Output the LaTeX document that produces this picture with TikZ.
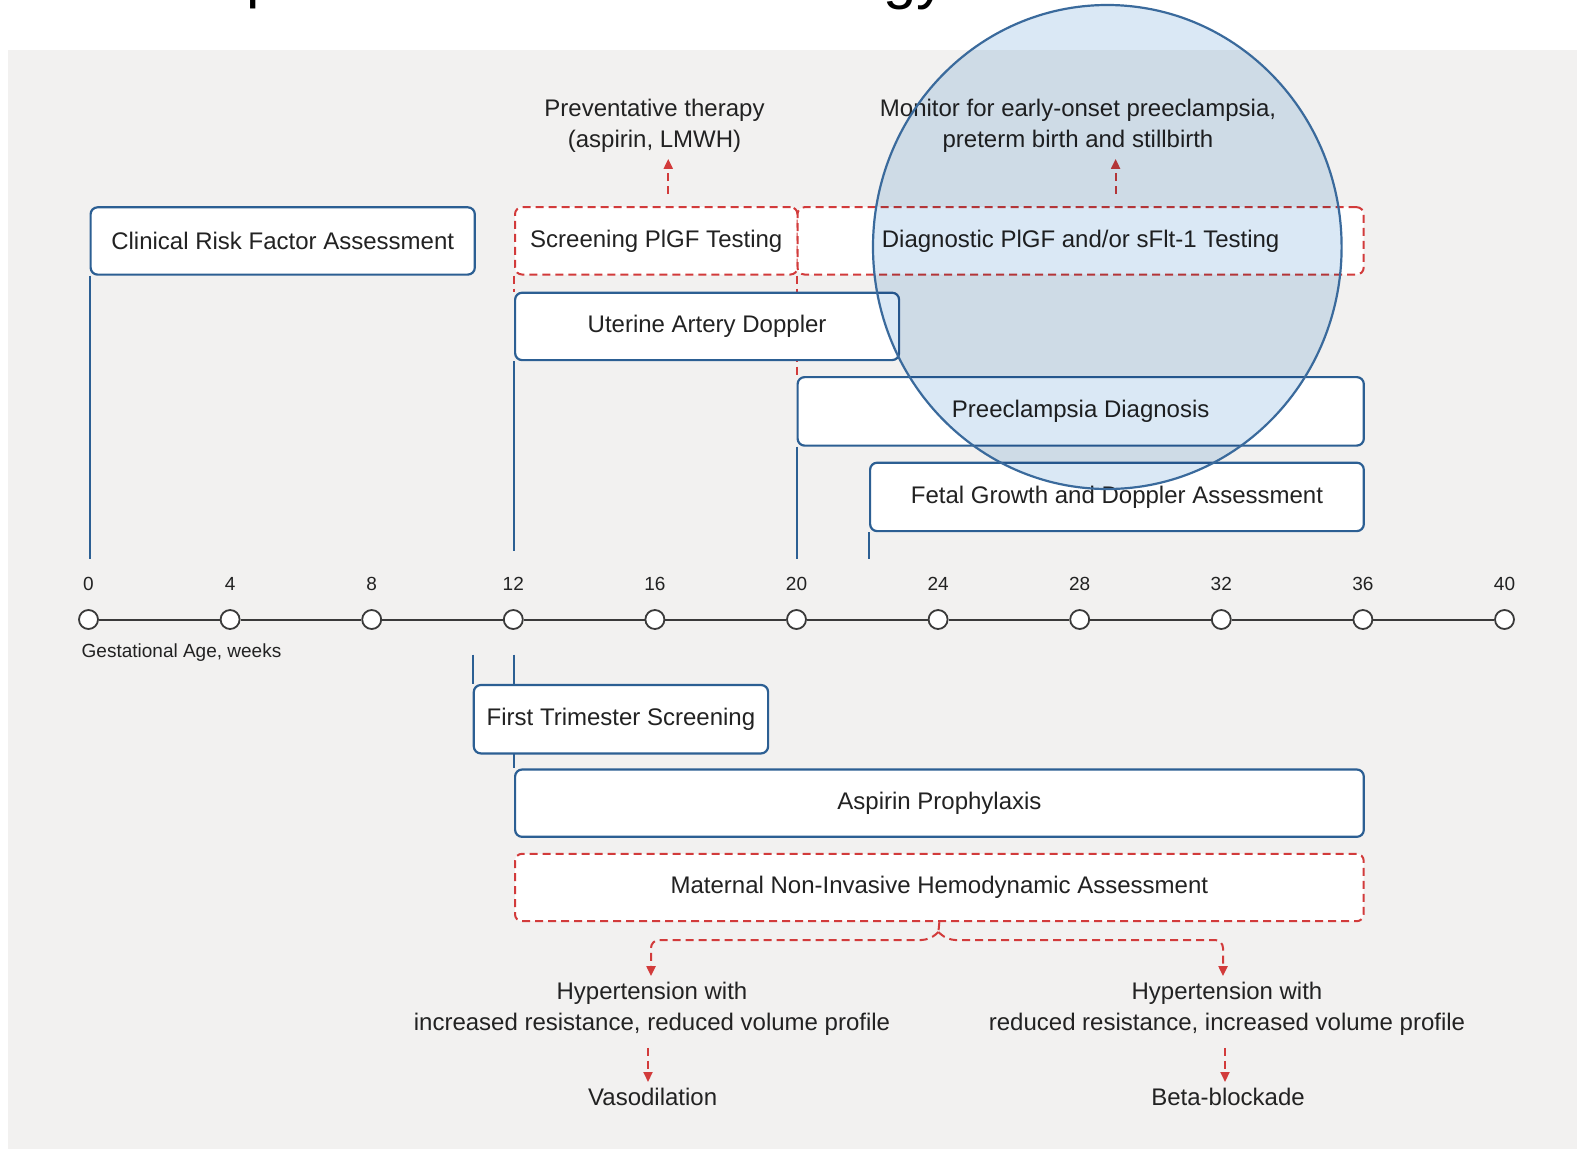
\documentclass[tikz,border=0pt]{standalone}
\usepackage{fontspec}
\setmainfont{Liberation Sans}
\usetikzlibrary{arrows.meta}
\definecolor{bggray}{HTML}{F2F1F0}
\definecolor{bblue}{HTML}{2C5F93}
\definecolor{rred}{HTML}{D23B3B}
\definecolor{txt}{HTML}{222222}
\definecolor{cfill}{HTML}{DAE8F5}
\definecolor{cline}{HTML}{3A6A9C}
\definecolor{tline}{HTML}{3A3A3A}
\tikzset{
  base/.style={font=\fontsize{24}{31}\selectfont, text=txt},
  small/.style={font=\fontsize{19}{23}\selectfont, text=txt, inner sep=0pt},
  bluebox/.style={base, draw=bblue, line width=2.2pt, fill=white, rounded corners=7pt, anchor=north west, inner sep=0pt},
  redbox/.style={base, draw=rred, line width=2pt, dash pattern=on 8pt off 5pt, fill=white, rounded corners=7pt, anchor=north west, inner sep=0pt},
  stem/.style={draw=bblue, line width=2.2pt},
  rstem/.style={draw=rred, line width=2pt, dash pattern=on 8pt off 5pt},
  rarrow/.style={rstem, -{Triangle[length=10pt,width=9pt]}},
  tickc/.style={circle, draw=tline, fill=white, line width=1.8pt, minimum size=19pt, inner sep=0pt},
  lab/.style={base, align=center, inner sep=6pt},
}
\begin{document}
\begin{tikzpicture}[x=1pt,y=-1pt]
\useasboundingbox (0,0) rectangle (1577,1149);
\fill[white] (0,0) rectangle (1577,1149);
\fill[bggray] (8,50.3) rectangle (1577,1149);

% cropped title fragments
\begin{scope}
\clip (0,0) rectangle (1577,14);
\node[anchor=base west, inner sep=0pt, font=\fontsize{60}{70}\selectfont, text=black] (tp) at (246,-3.6) {p};
\node[anchor=base west, inner sep=0pt, font=\fontsize{60}{70}\selectfont, text=black] (tgy) at (883,-2.6) {gy};
\end{scope}

% ---- boxes above the timeline
\node[bluebox, minimum width=384.2pt, minimum height=67.3pt] (crf) at (89.5,206.2) {Clinical Risk Factor Assessment};
\node[redbox, minimum width=282.5pt, minimum height=67.3pt] (spt) at (514,206.2) {Screening PlGF Testing};
\node[redbox, minimum width=566.2pt, minimum height=67.3pt] (dpt) at (796.5,206.2) {Diagnostic PlGF and/or sFlt-1 Testing};

% hidden red stems (drawn before covering boxes)
\coordinate (uadnw) at (514,291.6);
\coordinate (pdnw) at (796.5,376);
\draw[rstem] (spt.south west) -- (uadnw);
\draw[rstem] (dpt.south west) -- (pdnw);

\node[bluebox, minimum width=384pt, minimum height=67.4pt] (uad) at (uadnw) {Uterine Artery Doppler};
\node[bluebox, minimum width=566.2pt, minimum height=68.5pt] (pd) at (pdnw) {Preeclampsia Diagnosis};
\node[bluebox, minimum width=493.7pt, minimum height=68.4pt] (fgd) at (869,461.6) {Fetal Growth and Doppler Assessment};

% ---- timeline
\foreach \w in {0,4,...,40}{
  \node[tickc] (t\w) at ({88.5+35.4*\w},619.5) {};
  \node[small, anchor=base] (l\w) at ([yshift=29.5pt]t\w.center) {\w};
}
\foreach \a/\b in {0/4,4/8,8/12,12/16,16/20,20/24,24/28,28/32,32/36,36/40}{
  \draw[tline, line width=2pt] (t\a) -- (t\b);
}
\node[small, anchor=base west] (ga) at (81.5,657) {Gestational Age, weeks};

% stems to the timeline
\coordinate (s1) at (89.5,559);
\coordinate (s2) at (514,551);
\coordinate (s3) at (796.5,559);
\coordinate (s4) at (869,559);
\draw[stem, line width=2pt] (crf.south west) -- (s1);
\draw[stem, line width=2pt] (uad.south west) -- (s2);
\draw[stem, line width=2pt] (pd.south west) -- (s3);
\draw[stem, line width=2pt] (fgd.south west) -- (s4);

% ---- below the timeline
\coordinate (b1) at (472.7,654.7);
\coordinate (b2) at (514,654.7);
\coordinate (aspnw) at (514,768.4);
\draw[stem, line width=2pt] (b2) -- (aspnw);
\node[bluebox, minimum width=294.3pt, minimum height=68.4pt] (fts) at (472.7,683.9) {First Trimester Screening};
\draw[stem, line width=2pt] (b1) -- (fts.north west);
\node[bluebox, minimum width=848.7pt, minimum height=67.3pt] (asp) at (aspnw) {Aspirin Prophylaxis};
\node[redbox, minimum width=848.7pt, minimum height=67.4pt] (mnh) at (514,852.8) {Maternal Non-Invasive Hemodynamic Assessment};

% ---- top labels and arrows
\node[lab] (pt) at (654.5,126) {Preventative therapy\\(aspirin, LMWH)};
\node[lab] (mo) at (1078,126) {Monitor for early-onset preeclampsia,\\preterm birth and stillbirth};
\draw[rarrow, shorten <=12pt] ([xshift=12pt]spt.north) -- ([xshift=12pt]spt.north |- pt.south);
\draw[rarrow, shorten <=12pt] ([xshift=35pt]dpt.north) -- ([xshift=35pt]dpt.north |- mo.south);

% ---- bottom labels and arrows
\node[lab] (h1) at (652,1009) {Hypertension with\\increased resistance, reduced volume profile};
\node[lab] (h2) at (1227,1009) {Hypertension with\\reduced resistance, increased volume profile};
\node[lab] (v1) at (652.7,1097) {Vasodilation};
\node[lab] (v2) at (1228,1097) {Beta-blockade};

\coordinate (peak) at (938.4,932);
\draw[rstem] (mnh.south) -- (peak);
\draw[rarrow, rounded corners=8pt] (peak) -- ++(-9,8) -| ([xshift=-1pt]h1.north);
\draw[rarrow, rounded corners=8pt] (peak) -- ++(9,8) -| ([xshift=-4pt]h2.north);
\draw[rarrow, shorten <=6pt] ([xshift=-4pt]h1.south) -- ([xshift=-4pt]h1.south |- v1.north);
\draw[rarrow, shorten <=6pt] ([xshift=-2pt]h2.south) -- ([xshift=-2pt]h2.south |- v2.north);

% ---- overlay circle (multiply blend keeps text dark)
\begin{scope}[blend mode=multiply]
\fill[cfill] (1107.3,247) ellipse [x radius=234.3pt, y radius=242pt];
\end{scope}
\draw[cline, line width=2.2pt] (1107.3,247) ellipse [x radius=234.3pt, y radius=242pt];
\end{tikzpicture}
\end{document}
